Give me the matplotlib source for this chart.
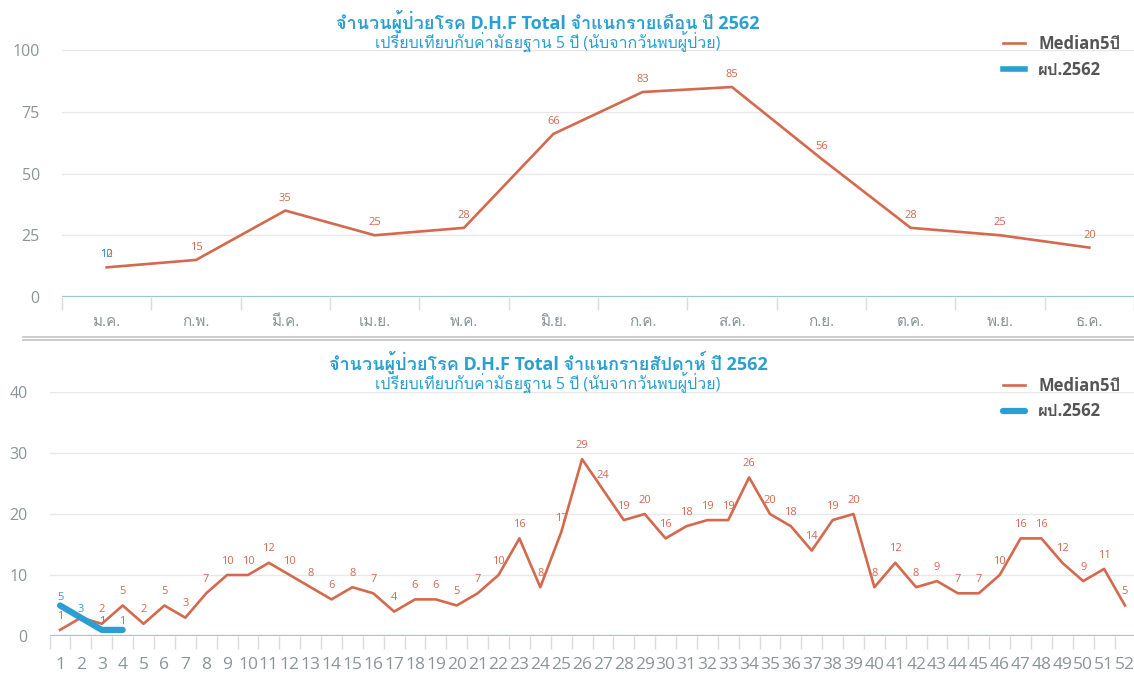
import matplotlib
matplotlib.use("Agg")
import matplotlib.pyplot as plt
from matplotlib.lines import Line2D
import numpy as np

plt.rcParams['font.family'] = ['Open Sans', 'Loma', 'Noto Sans Thai Looped', 'DejaVu Sans']

# monthly data
months = ["ม.ค.", "ก.พ.", "มี.ค.", "เม.ย.", "พ.ค.", "มิ.ย.",
          "ก.ค.", "ส.ค.", "ก.ย.", "ต.ค.", "พ.ย.", "ธ.ค."]
median_month = [12, 15, 35, 25, 28, 66, 83, 85, 56, 28, 25, 20]
cases_month = [10]

# weekly data
weeks = list(range(1, 53))
median_week = [1, 3, 2, 5, 2, 5, 3, 7, 10, 10, 12, 10, 8, 6, 8, 7, 4, 6, 6, 5,
               7, 10, 16, 8, 17, 29, 24, 19, 20, 16, 18, 19, 19, 26, 20, 18, 14,
               19, 20, 8, 12, 8, 9, 7, 7, 10, 16, 16, 12, 9, 11, 5]
cases_week = [5, 3, 1, 1]

RED = "#d4694e"
BLUE = "#2b9ed3"
TITLE = "#2a9fd2"
GRID = "#e8e8e8"
BASE = "#9ccbc6"
TICK = "#8a9597"

W, H = 1134, 677
fig = plt.figure(figsize=(W / 100, H / 100), dpi=100)


def px_axes(left, right, top, bottom):
    return fig.add_axes([left / W, 1 - bottom / H, (right - left) / W, (bottom - top) / H])


def style(ax, ymax, ystep, nbands, xfirst):
    ax.set_ylim(0, ymax)
    ax.set_yticks(np.arange(0, ymax + 1, ystep))
    for s in ax.spines.values():
        s.set_visible(False)
    ax.grid(axis='y', color=GRID, lw=1)
    ax.set_axisbelow(True)
    ax.axhline(0, color=BASE, lw=1.6, zorder=1)
    ax.tick_params(axis='y', length=0, pad=16, labelsize=11.5, labelcolor=TICK)
    ax.tick_params(axis='x', which='major', length=0, colors=TICK)
    ax.set_xticks(np.arange(nbands + 1) + xfirst - 0.5, minor=True)
    ax.tick_params(axis='x', which='minor', length=9, color="#d5dede", width=1)
    ax.set_facecolor('white')


def label_points(ax, xs, ys, color, dy=5, skip=()):
    for x, y in zip(xs, ys):
        if x in skip:
            continue
        ax.annotate(str(y), (x, y), xytext=(0, dy), textcoords='offset points',
                    ha='center', va='bottom', fontsize=8, color=color)


def add_legend(ax, top_px):
    ax.legend(loc='upper left', bbox_to_anchor=(988 / W, 1 - top_px / H),
              bbox_transform=fig.transFigure, frameon=False, handlelength=1.3,
              labelspacing=0.45, prop={'weight': 'bold', 'size': 12},
              labelcolor="#555555")


def add_titles(title, y_px):
    fig.text(548 / W, 1 - y_px / H, title, ha='center', va='center',
             fontsize=13, fontweight='bold', color=TITLE)
    fig.text(548 / W, 1 - (y_px + 21) / H,
             "เปรียบเทียบกับค่ามัธยฐาน 5 ปี (นับจากวันพบผู้ป่วย)",
             ha='center', va='center', fontsize=11.5, color=TITLE)


# ---- top chart (monthly) ----
ax1 = px_axes(62, 1134, 50, 297)
xm = np.arange(len(months))
ax1.plot(xm, median_month, color=RED, lw=1.9, label="Median5ปี", zorder=3)
ax1.plot(np.arange(len(cases_month)), cases_month, color=BLUE, lw=4,
         label="ผป.2562", zorder=4)
label_points(ax1, xm, median_month, RED)
label_points(ax1, np.arange(len(cases_month)), cases_month, BLUE, dy=9)
ax1.set_xlim(-0.5, len(months) - 0.5)
ax1.set_xticks(xm)
ax1.set_xticklabels(months, fontsize=11)
ax1.tick_params(axis='x', which='major', pad=13)
style(ax1, 100, 25, len(months), 0)
add_legend(ax1, 20)
add_titles("จำนวนผู้ป่วยโรค D.H.F Total จำแนกรายเดือน ปี 2562", 21)

# separator
fig.add_artist(Line2D([0.02, 1], [1 - 337 / H, 1 - 337 / H], color="#c4c4c4", lw=1.2))
fig.add_artist(Line2D([0.02, 1], [1 - 340 / H, 1 - 340 / H], color="#c4c4c4", lw=1.2))

# ---- bottom chart (weekly) ----
ax2 = px_axes(49.6, 1135.4, 392, 636)
ax2.plot(weeks, median_week, color=RED, lw=1.9, label="Median5ปี", zorder=3)
xw = weeks[:len(cases_week)]
ax2.plot(xw, cases_week, color=BLUE, lw=4.5, solid_capstyle='round',
         label="ผป.2562", zorder=4)
# red label hidden where the blue one sits on the same value
same = [x for x, c in zip(xw, cases_week) if median_week[x - 1] == c]
label_points(ax2, weeks, median_week, RED, dy=6, skip=same)
label_points(ax2, xw, cases_week, BLUE, dy=2)
ax2.set_xlim(0.5, 52.5)
ax2.set_xticks(weeks)
ax2.set_xticklabels([str(w) for w in weeks], fontsize=12.5)
ax2.tick_params(axis='x', which='major', pad=15)
style(ax2, 40, 10, len(weeks), 1)
add_legend(ax2, 362)
add_titles("จำนวนผู้ป่วยโรค D.H.F Total จำแนกรายสัปดาห์ ปี 2562", 362)

fig.savefig("out.png", dpi=100, facecolor='white')
